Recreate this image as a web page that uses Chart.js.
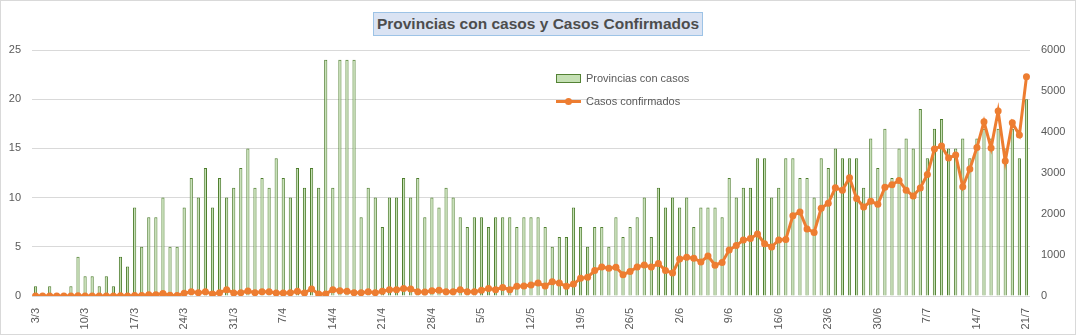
<!DOCTYPE html>
<html>
<head>
<meta charset="utf-8">
<script src="https://cdn.jsdelivr.net/npm/chart.js@4.4.1/dist/chart.umd.min.js"></script>
<style>
  html, body { margin: 0; padding: 0; background: #fff; }
  #wrap {
    position: relative; width: 1076px; height: 335px;
    box-sizing: border-box; border: 1px solid #d9d9d9;
    font-family: "Liberation Sans", Arial, sans-serif; color: #595959;
  }
  #grafica { position: absolute; left: 0; top: 0; }
  #titulo {
    position: absolute; left: 372px; top: 11px; width: 330px; height: 24px;
    box-sizing: border-box; background: #dae3f3; border: 1px solid #9dc3e6;
    font-weight: bold; font-size: 15.5px; line-height: 22px; text-align: center;
    color: #4d4d4d; white-space: nowrap;
  }
  #leyenda { position: absolute; left: 555px; top: 70px; font-size: 11px; }
  #leyenda .item { position: relative; height: 18px; padding-left: 30px; line-height: 14px; white-space: nowrap; }
  #leyenda .caja {
    position: absolute; left: 0; top: 3px; width: 25px; height: 9px;
    box-sizing: border-box; background: #c5e0b4; border: 1px solid #548235;
  }
  #leyenda .linea { position: absolute; left: 0; top: 6px; width: 25px; height: 3px; background: #ed7d31; }
  #leyenda .punto {
    position: absolute; left: 9px; top: 4px; width: 7px; height: 7px;
    border-radius: 50%; background: #ed7d31;
  }
</style>
</head>
<body>
<div id="wrap">
  <canvas id="grafica" width="1076" height="335"></canvas>
  <div id="titulo">Provincias con casos y Casos Confirmados</div>
  <div id="leyenda">
    <div class="item"><span class="caja"></span>Provincias con casos</div>
    <div class="item" style="margin-top:5px"><span class="linea"></span><span class="punto"></span>Casos confirmados</div>
  </div>
</div>
<script>
// provincias con casos por dia (3/3 .. 21/7)
const provincias = [
  1,0,1,0,0,1,4,2,2,1,2,1,4,3,9,5,8,8,10,5,
  5,9,12,10,13,9,12,10,11,13,15,11,12,11,14,12,10,13,11,13,
  11,24,11,24,24,24,8,11,10,7,10,10,12,10,12,8,10,9,11,10,
  8,7,8,8,7,8,8,8,7,8,8,8,7,5,6,6,9,7,5,7,
  7,5,8,6,7,8,10,6,11,9,10,9,10,7,9,9,9,8,12,10,
  11,11,14,14,10,11,14,14,12,12,10,14,13,15,14,14,14,11,16,
  13,17,12,15,16,15,19,14,17,18,15,15,16,14,16,17,16,17,15,17,14,20
];

// casos confirmados por dia
const casos = [
  1,0,1,0,0,2,4,2,2,1,2,2,5,3,10,12,30,30,60,20,10,
  70,105,80,105,50,80,155,75,80,120,80,105,105,75,75,80,115,75,170,
  50,50,155,130,115,80,80,105,80,115,155,155,180,170,105,100,130,140,105,105,
  155,105,105,140,180,155,210,155,235,245,270,315,245,350,315,235,290,430,455,620,
  705,675,700,520,600,705,755,705,790,625,560,900,945,920,830,975,750,820,1120,1230,
  1365,1400,1510,1275,1195,1365,1380,1960,2050,1635,1550,2140,2260,2640,2580,2885,2380,2170,2310,
  2235,2650,2715,2820,2580,2440,2635,2965,3585,3660,3365,3440,2665,3100,3620,4250,3610,4510,3290,4225,3925,5345
];

const ticksIzq = [0, 5, 10, 15, 20, 25];
const ticksDer = [0, 1000, 2000, 3000, 4000, 5000, 6000];

// etiquetas d/m desde el 3 de marzo
const dias = [];
const inicio = new Date(2020, 2, 3);
for (let i = 0; i < provincias.length; i++) {
  const d = new Date(inicio.getFullYear(), inicio.getMonth(), inicio.getDate() + i);
  dias.push(d.getDate() + '/' + (d.getMonth() + 1));
}

const gris = '#595959';
const fuente = { family: "'Liberation Sans', Arial, sans-serif", size: 11 };

const graph = document.querySelector('#grafica');

const data = {
  labels: dias,
  datasets: [{
    type: 'line',
    label: 'Casos confirmados',
    data: casos,
    yAxisID: 'y1',
    borderColor: '#ed7d31',
    backgroundColor: '#ed7d31',
    borderWidth: 3,
    pointRadius: 3.5,
    pointBorderWidth: 0,
    tension: 0,
    order: 0
  }, {
    type: 'bar',
    label: 'Provincias con casos',
    data: provincias,
    yAxisID: 'y',
    backgroundColor: '#c5e0b4',
    borderColor: '#4e7d2e',
    borderWidth: 1,
    inflateAmount: 0,
    barPercentage: 0.5,
    categoryPercentage: 0.9,
    order: 1
  }]
};

const config = {
  type: 'bar',
  data: data,
  options: {
    responsive: false,
    animation: false,
    layout: { padding: { top: 49, left: 0, right: 0, bottom: 0 } },
    plugins: {
      legend: { display: false },
      title: { display: false },
      tooltip: { enabled: false }
    },
    scales: {
      x: {
        grid: { display: false },
        border: { display: false },
        ticks: {
          autoSkip: false,
          maxRotation: 90,
          minRotation: 90,
          padding: 4,
          color: gris,
          font: fuente,
          callback: function (val, i) { return i % 7 === 0 ? dias[i] : ''; }
        },
        afterFit: function (s) { s.height = 40; }
      },
      y: {
        position: 'left',
        min: ticksIzq[0],
        max: ticksIzq[ticksIzq.length - 1],
        afterBuildTicks: function (s) { s.ticks = ticksIzq.map(v => ({ value: v })); },
        grid: { color: '#d9d9d9', lineWidth: 1, drawTicks: false },
        border: { display: false },
        ticks: { color: gris, font: fuente, padding: 11 },
        afterFit: function (s) { s.width = 31; }
      },
      y1: {
        position: 'right',
        min: ticksDer[0],
        max: ticksDer[ticksDer.length - 1],
        afterBuildTicks: function (s) { s.ticks = ticksDer.map(v => ({ value: v })); },
        grid: { display: false, drawTicks: false },
        border: { display: false },
        ticks: {
          color: gris, font: fuente, padding: 11,
          callback: function (v) { return String(v); }
        },
        afterFit: function (s) { s.width = 47; }
      }
    }
  }
};

new Chart(graph, config);
</script>
</body>
</html>
